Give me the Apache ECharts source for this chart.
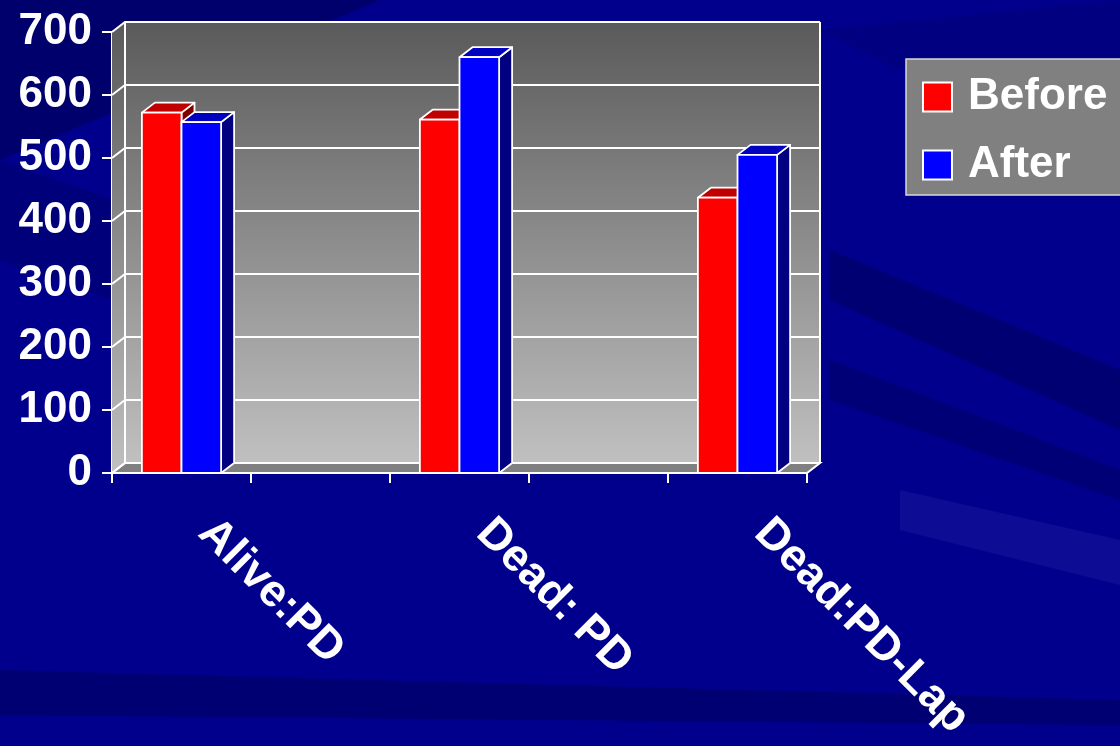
<!DOCTYPE html>
<html>
<head>
<meta charset="utf-8">
<script src="https://cdn.jsdelivr.net/npm/echarts@6/dist/echarts.min.js"></script>
<style>
html,body{margin:0;padding:0;background:#000088;}
#chart{width:1120px;height:746px;}
</style>
</head>
<body>
<div id="chart"></div>
<script>
const categories = ['Alive:PD', '', 'Dead: PD', '', 'Dead:PD-Lap'];
const seriesNames = ['Before', 'After'];
const beforeValues = [572, null, 561, null, 437];
const afterValues = [557, null, 660, null, 505];
const yTicks = [0, 100, 200, 300, 400, 500, 600, 700];

const FONT = '"Liberation Sans", Arial, sans-serif';
const DX = 13, DY = -10;

function toData(arr) {
  const out = [];
  arr.forEach((v, i) => { if (v != null) out.push([i, v]); });
  return out;
}

function barRenderer(side, front, top, sideCol) {
  return function (params, api) {
    const idx = api.value(0);
    const v = api.value(1);
    const base = api.coord([idx, 0]);
    const tp = api.coord([idx, v]);
    const band = api.size([1, 0])[0];
    const w = band * 0.285;
    const x0 = side === 0 ? base[0] - w : base[0];
    const x1 = x0 + w;
    const yb = base[1], yt = tp[1];
    const st = { stroke: '#ffffff', lineWidth: 1.8, lineJoin: 'round' };
    return {
      type: 'group',
      children: [
        { type: 'polygon', shape: { points: [[x1, yb], [x1 + DX, yb + DY], [x1 + DX, yt + DY], [x1, yt]] },
          style: Object.assign({ fill: sideCol }, st) },
        { type: 'polygon', shape: { points: [[x0, yt], [x0 + DX, yt + DY], [x1 + DX, yt + DY], [x1, yt]] },
          style: Object.assign({ fill: top }, st) },
        { type: 'rect', shape: { x: x0, y: yt, width: w, height: yb - yt },
          style: Object.assign({ fill: front }, st) }
      ]
    };
  };
}

function frameRender(params, api) {
  const cs = params.coordSys;
  const xl = cs.x, xr = cs.x + cs.width;
  const y0 = api.coord([0, yTicks[0]])[1];
  const yTop = api.coord([0, yTicks[yTicks.length - 1]])[1];
  const grad = new echarts.graphic.LinearGradient(0, 0, 0, 1, [
    { offset: 0, color: '#5a5a5a' }, { offset: 1, color: '#c0c0c0' }
  ]);
  const grad2 = new echarts.graphic.LinearGradient(0, 0, 0, 1, [
    { offset: 0, color: '#5a5a5a' }, { offset: 1, color: '#c0c0c0' }
  ]);
  const ln = { stroke: '#ffffff', lineWidth: 2, fill: null };
  const children = [
    { type: 'rect', shape: { x: xl + DX, y: yTop + DY, width: xr - xl, height: y0 - yTop },
      style: { fill: grad } },
    { type: 'polygon', shape: { points: [[xl, yTop], [xl + DX, yTop + DY], [xl + DX, y0 + DY], [xl, y0]] },
      style: { fill: grad2 } },
    { type: 'polygon', shape: { points: [[xl, y0], [xl + DX, y0 + DY], [xr + DX, y0 + DY], [xr, y0]] },
      style: { fill: '#808080', stroke: '#ffffff', lineWidth: 2 } }
  ];
  yTicks.forEach(t => {
    const y = api.coord([0, t])[1];
    children.push({ type: 'polyline', shape: { points: [[xl, y], [xl + DX, y + DY], [xr + DX, y + DY]] }, style: ln });
  });
  children.push({ type: 'line', shape: { x1: xl + DX, y1: yTop + DY, x2: xl + DX, y2: y0 + DY }, style: ln });
  children.push({ type: 'line', shape: { x1: xr + DX, y1: yTop + DY, x2: xr + DX, y2: y0 + DY }, style: ln });
  return { type: 'group', children: children };
}

const chart = echarts.init(document.getElementById('chart'), null, { renderer: 'canvas' });

const streaks = [
  { pts: [[0, 0], [380, 0], [0, 160]], c: 'rgba(0,0,40,0.30)' },
  { pts: [[0, 160], [0, 260], [112, 300], [112, 200]], c: 'rgba(0,0,50,0.20)' },
  { pts: [[830, 250], [1120, 370], [1120, 430], [830, 300]], c: 'rgba(0,0,40,0.25)' },
  { pts: [[830, 360], [1120, 470], [1120, 500], [830, 400]], c: 'rgba(0,0,40,0.22)' },
  { pts: [[900, 490], [1120, 540], [1120, 585], [900, 530]], c: 'rgba(40,40,170,0.30)' },
  { pts: [[0, 670], [1120, 700], [1120, 725], [0, 715]], c: 'rgba(0,0,40,0.25)' },
  { pts: [[820, 30], [1120, 0], [1120, 60], [900, 70]], c: 'rgba(0,0,40,0.12)' }
];

chart.setOption({
  backgroundColor: '#00008c',
  animation: false,
  graphic: streaks.map(s => ({
    type: 'polygon', silent: true, z: -10,
    shape: { points: s.pts }, style: { fill: s.c }
  })),
  grid: { left: 112, right: 313, top: 32, bottom: 273, containLabel: false },
  legend: {
    data: [
      { name: 'Before', icon: 'rect', itemStyle: { color: '#ff0000', borderColor: '#ffffff', borderWidth: 2 } },
      { name: 'After', icon: 'rect', itemStyle: { color: '#0000ff', borderColor: '#ffffff', borderWidth: 2 } }
    ],
    orient: 'vertical',
    left: 906, top: 59,
    padding: [16, 40, 8, 16],
    itemWidth: 29, itemHeight: 29, itemGap: 24,
    backgroundColor: '#808080',
    borderColor: '#d8d8d8', borderWidth: 1.5,
    textStyle: { color: '#ffffff', fontSize: 44, fontWeight: 'bold', fontFamily: FONT, padding: [0, 0, 0, 11] }
  },
  xAxis: {
    type: 'category',
    data: categories,
    boundaryGap: true,
    axisLine: { show: true, lineStyle: { color: '#ffffff', width: 2 } },
    axisTick: { show: true, inside: false, length: 10, lineStyle: { color: '#ffffff', width: 2 }, alignWithLabel: false, interval: 0 },
    axisLabel: {
      interval: 0, rotate: -45, margin: 29,
      color: '#ffffff', fontSize: 45, fontWeight: 'bold', fontFamily: FONT,
      lineHeight: 45, padding: [0, 0, 0, 34]
    },
    splitLine: { show: false }
  },
  yAxis: {
    type: 'value', min: 0, max: 700, interval: 100,
    axisLine: { show: true, lineStyle: { color: '#ffffff', width: 2 } },
    axisTick: { show: true, length: 10, lineStyle: { color: '#ffffff', width: 2 } },
    axisLabel: { margin: 20, color: '#ffffff', fontSize: 44, fontWeight: 'bold', fontFamily: FONT },
    splitLine: { show: false }
  },
  series: [
    {
      name: 'frame', type: 'custom', data: [[0, 0]], renderItem: frameRender,
      clip: false, silent: true, z: 1, encode: { x: 0, y: 1 }
    },
    {
      name: seriesNames[0], type: 'custom', data: toData(beforeValues),
      renderItem: barRenderer(0, '#ff0000', '#c00000', '#800000'),
      encode: { x: 0, y: 1 }, itemStyle: { color: '#ff0000' }, z: 3, clip: false
    },
    {
      name: seriesNames[1], type: 'custom', data: toData(afterValues),
      renderItem: barRenderer(1, '#0000ff', '#0000c0', '#000080'),
      encode: { x: 0, y: 1 }, itemStyle: { color: '#0000ff' }, z: 4, clip: false
    }
  ]
});
</script>
</body>
</html>
